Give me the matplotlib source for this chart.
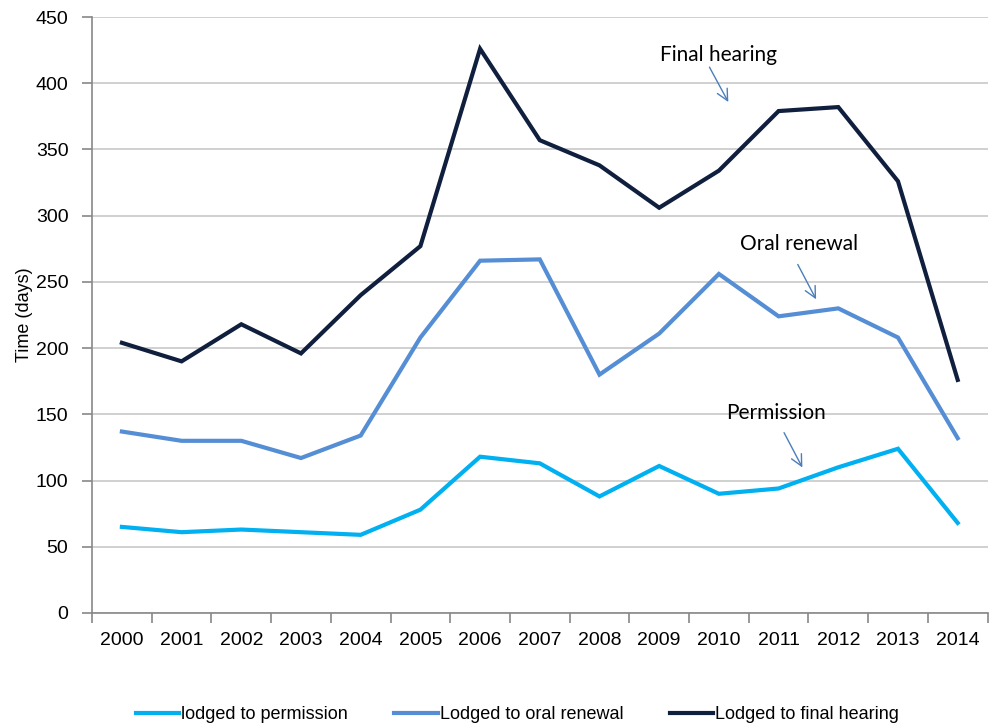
import matplotlib
matplotlib.use("Agg")
import matplotlib.pyplot as plt
import numpy as np

years = ["2000", "2001", "2002", "2003", "2004", "2005", "2006", "2007",
         "2008", "2009", "2010", "2011", "2012", "2013", "2014"]
permission = [65, 61, 63, 61, 59, 78, 118, 113, 88, 111, 90, 94, 110, 124, 68]
oral_renewal = [137, 130, 130, 117, 134, 208, 266, 267, 180, 211, 256, 224, 230, 208, 132]
final_hearing = [204, 190, 218, 196, 240, 277, 426, 357, 338, 306, 334, 379, 382, 326, 176]

labels = ["lodged to permission", "Lodged to oral renewal", "Lodged to final hearing"]
colors = ["#00B0F0", "#558ED5", "#0F1F3D"]

tick_font = ["Liberation Sans", "DejaVu Sans"]
note_font = ["Lato", "DejaVu Sans"]

fig = plt.figure(figsize=(9.95, 7.28), dpi=100)
ax = fig.add_axes([0.0925, 0.158, 0.9, 0.8186])

x = np.arange(len(years))
for vals, lab, col in zip([permission, oral_renewal, final_hearing], labels, colors):
    ax.plot(x, vals, color=col, lw=3, label=lab, solid_joinstyle="miter")

ax.set_xlim(-0.5, len(years) - 0.5)
ax.set_ylim(0, 450)
ax.set_yticks(range(0, 451, 50))
ax.grid(axis="y", color="#c8c8c8", lw=1.2)
ax.set_axisbelow(True)

# ticks between categories, labels centred on categories
ax.set_xticks(np.arange(-0.5, len(years), 1.0))
ax.set_xticklabels([])
ax.set_xticks(x, minor=True)
ax.set_xticklabels(years, minor=True, family=tick_font, fontsize=14)
ax.tick_params(axis="x", which="major", length=7, color="#888888", width=1.2)
ax.tick_params(axis="x", which="minor", length=0, pad=14)
ax.tick_params(axis="y", length=7, color="#888888", width=1.2, pad=10)
for t in ax.get_yticklabels():
    t.set_family(tick_font)
    t.set_fontsize(14)

for s in ["top", "right"]:
    ax.spines[s].set_visible(False)
for s in ["left", "bottom"]:
    ax.spines[s].set_color("#888888")
    ax.spines[s].set_linewidth(1.2)

ax.set_ylabel("Time (days)", family=tick_font, fontsize=13, labelpad=2)

arrow = dict(arrowstyle="->", color="#4A7EBB", lw=1, mutation_scale=20)
ax.text(9.99, 421, "Final hearing", family=note_font, fontsize=15, ha="center", va="center")
ax.annotate("", xy=(10.18, 384), xytext=(9.82, 414), arrowprops=arrow)
ax.text(11.35, 278.5, "Oral renewal", family=note_font, fontsize=15, ha="center", va="center")
ax.annotate("", xy=(11.65, 235), xytext=(11.3, 265), arrowprops=arrow)
ax.text(10.96, 151, "Permission", family=note_font, fontsize=15, ha="center", va="center")
ax.annotate("", xy=(11.42, 108), xytext=(11.07, 138), arrowprops=arrow)

fig.legend(loc="center", bbox_to_anchor=(0.52, 0.018), ncol=3, frameon=False,
           prop={"family": tick_font, "size": 13}, handlelength=2.4,
           handletextpad=0.1, columnspacing=2.6)

fig.savefig("out.png", dpi=100)
